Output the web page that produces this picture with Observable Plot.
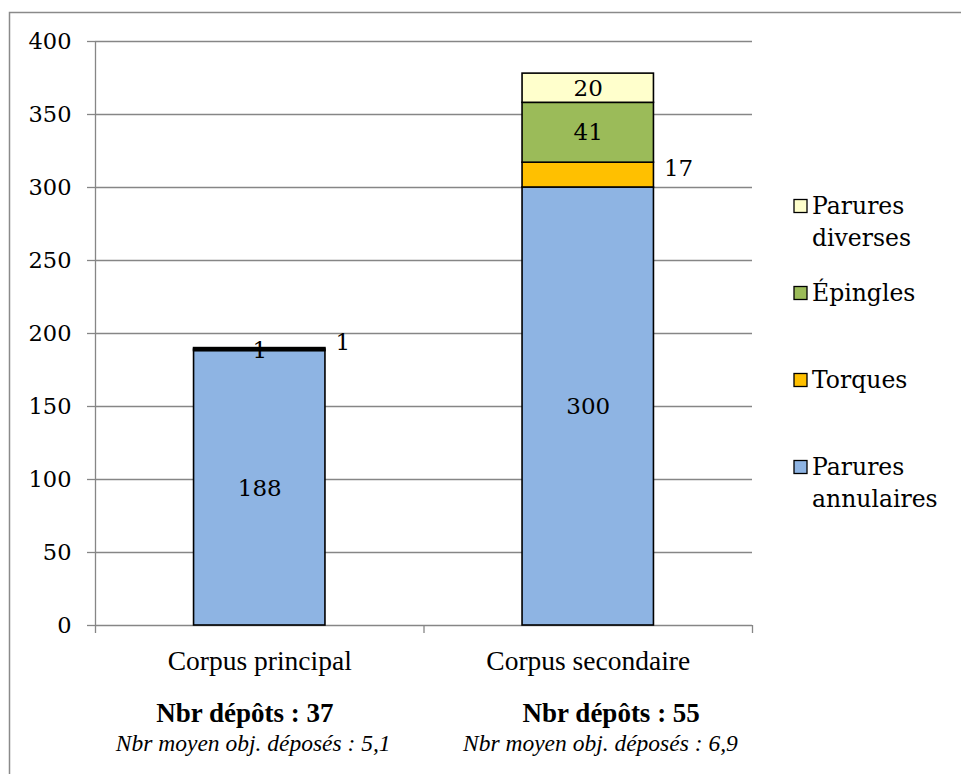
<!DOCTYPE html>
<html><head><meta charset="utf-8">
<script src="https://cdn.jsdelivr.net/npm/d3@7"></script>
<script src="https://cdn.jsdelivr.net/npm/@observablehq/plot@0.6"></script>
<style>
html,body{margin:0;padding:0;background:#fff;}
#chart{position:relative;width:961px;height:774px;overflow:hidden;}
</style></head><body><div id="chart"></div>
<script>
// ---- data ----
const categories = ["Corpus principal", "Corpus secondaire"];
const seriesNames = ["Parures annulaires", "Torques", "Épingles", "Parures diverses"];
const paruresAnnulaires = [188, 300];
const torques = [1, 17];
const epingles = [1, 41];
const paruresDiverses = [0, 20];
const yTicks = [0, 50, 100, 150, 200, 250, 300, 350, 400];
const nbrDepots = [37, 55];
const nbrMoyen = ["5,1", "6,9"];
// data labels shown beside the bar instead of centred in the segment
const outsideLabels = [["Corpus principal", "Épingles"], ["Corpus secondaire", "Torques"]];
const legendLines = {"Parures diverses": ["Parures", "diverses"], "Épingles": ["Épingles"], "Torques": ["Torques"], "Parures annulaires": ["Parures", "annulaires"]};

// ---- style ----
const seriesColors = ["#8EB4E3", "#FFC000", "#9BBB59", "#FFFFCC"];
const gridColor = "#868686";
const serif = "DejaVu Serif";
const serif2 = "Liberation Serif";

const valuesBySeries = [paruresAnnulaires, torques, epingles, paruresDiverses];
const rows = [];
categories.forEach((cat, i) => {
  let cum = 0;
  seriesNames.forEach((s, k) => {
    const v = valuesBySeries[k][i];
    if (v > 0) {
      const outside = outsideLabels.some(([c, n]) => c === cat && n === s);
      rows.push({cat, i, series: s, value: v, y1: cum, y2: cum + v, outside});
    }
    cum += v;
  });
});

const inside = rows.filter(d => !d.outside);
const outside = rows.filter(d => d.outside);
const noteShift = [-0.045, 0.07];
const italicShift = [-0.02, 0.037];

const plot = Plot.plot({
  width: 961, height: 774,
  marginLeft: 95, marginRight: 209, marginTop: 41, marginBottom: 149,
  style: {fontFamily: serif, fontSize: "22px", background: "white", overflow: "visible", color: "#000"},
  x: {domain: [0, 2], axis: null},
  y: {domain: [0, 400], axis: null},
  color: {domain: seriesNames, range: seriesColors},
  marks: [
    Plot.ruleY(yTicks.filter(t => t > 0), {stroke: gridColor, strokeWidth: 1.3}),
    Plot.axisY({ticks: yTicks, tickSize: 8, tickPadding: 16, stroke: gridColor, strokeWidth: 1.3, fill: "#000", fontSize: 22.5, label: null, tickFormat: d => String(d)}),
    Plot.ruleX([0], {y1: 400, y2: -5.5, stroke: gridColor, strokeWidth: 1.3}),
    Plot.ruleY([0], {stroke: gridColor, strokeWidth: 1.3}),
    Plot.ruleX([1, 2], {y1: 0, y2: -5.5, stroke: gridColor, strokeWidth: 1.3}),
    Plot.rect(rows, {x1: d => d.i + 0.3, x2: d => d.i + 0.7, y1: "y1", y2: "y2", fill: "series", stroke: "#000", strokeWidth: 1.6}),
    Plot.text(inside, {x: d => d.i + 0.5, y: d => (d.y1 + d.y2) / 2, text: d => String(d.value), fill: "#000", fontSize: 23, fontFamily: serif}),
    Plot.text(outside, {x: d => d.i + 0.7, y: d => (d.y1 + d.y2) / 2, text: d => String(d.value), textAnchor: "start", dx: 10, dy: -6, fill: "#000", fontSize: 23, fontFamily: serif}),
    Plot.text(categories, {x: (d, i) => i + 0.5, y: 0, dy: 36, text: d => d, fill: "#000", fontSize: 27.5, fontFamily: serif2}),
    Plot.text(nbrDepots, {x: (d, i) => i + 0.5 + noteShift[i], y: 0, dy: 88, text: d => `Nbr dépôts : ${d}`, fill: "#000", fontSize: 27, fontWeight: "bold", fontFamily: serif2}),
    Plot.text(nbrMoyen, {x: (d, i) => i + 0.5 + italicShift[i], y: 0, dy: 118, text: d => `Nbr moyen obj. déposés : ${d}`, fill: "#000", fontSize: 23.5, fontStyle: "italic", fontFamily: serif2})
  ]
});

document.getElementById("chart").appendChild(plot);

// outer frame and legend
const svg = d3.select(plot);
svg.append("rect").attr("x", 9.5).attr("y", 12.5).attr("width", 2000).attr("height", 2000)
  .attr("fill", "none").attr("stroke", "#8a8a8a").attr("stroke-width", 1.5);
const legendOrder = seriesNames.slice().reverse();
const lg = svg.append("g").attr("font-family", serif).attr("font-size", 23.5).attr("fill", "#000").attr("text-anchor", "start");
legendOrder.forEach((s, k) => {
  const cy = 206 + 87 * k;
  lg.append("rect").attr("x", 794).attr("y", cy - 6.5).attr("width", 13).attr("height", 13)
    .attr("fill", seriesColors[seriesNames.indexOf(s)]).attr("stroke", "#000").attr("stroke-width", 1.3);
  legendLines[s].forEach((line, j) => {
    lg.append("text").attr("x", 812).attr("y", cy + 8 + 31.5 * j).attr("text-anchor", "start").text(line);
  });
});
</script>
</body></html>
